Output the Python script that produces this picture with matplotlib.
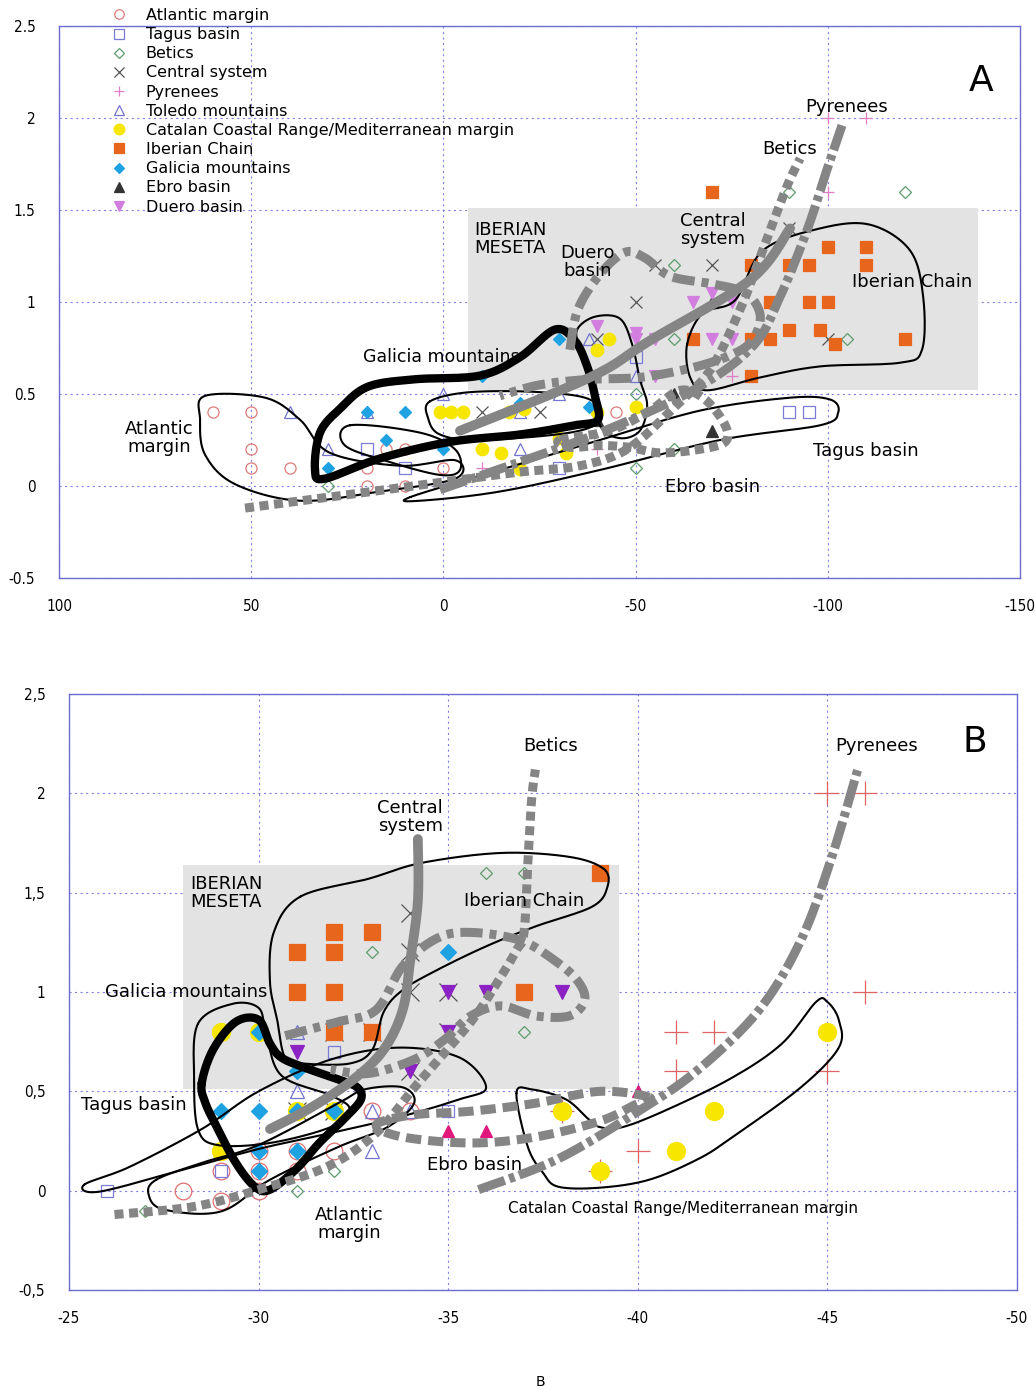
import numpy as np
import matplotlib
matplotlib.use("Agg")
import matplotlib.pyplot as plt
from matplotlib.patches import Rectangle

""" two panels of field points per region, with hand-drawn outlines and trend lines """

plt.rcParams['font.family'] = ['DejaVu Sans']
plt.rcParams['lines.scale_dashes'] = False

# ---- panel A points (x, y) ----
atlantic_a = [(60, 0.4), (50, 0.4), (50, 0.2), (50, 0.1), (40, 0.1), (20, 0.1), (15, 0.2), (10, 0.2),
              (20, 0.0), (10, 0.0), (0, 0.1), (-45, 0.4)]
tagus_a = [(10, 0.1), (20, 0.2), (-30, 0.1), (-50, 0.7), (-90, 0.4), (-95, 0.4)]
betics_a = [(30, 0.0), (-50, 0.1), (-50, 0.5), (-60, 0.2), (-60, 0.8), (-60, 1.2), (-90, 1.6), (-105, 0.8), (-120, 1.6)]
central_a = [(-10, 0.4), (-25, 0.4), (-40, 0.8), (-50, 1.0), (-55, 1.2), (-70, 1.2), (-90, 1.4), (-100, 0.8)]
pyrenees_a = [(-10, 0.1), (-40, 0.2), (-75, 0.6), (-100, 1.6), (-100, 2.0), (-110, 2.0)]
toledo_a = [(40, 0.4), (30, 0.2), (20, 0.4), (0, 0.5), (-20, 0.4), (-20, 0.2), (-30, 0.5), (-38, 0.8), (-50, 0.6)]
catalan_a = [(1, 0.4), (-2, 0.4), (-5, 0.4), (-17, 0.4), (-21, 0.42), (-10, 0.2), (-15, 0.18), (-20, 0.09),
             (-30, 0.26), (-32, 0.18), (-40, 0.4), (-50, 0.43), (-43, 0.8), (-40, 0.74)]
iberian_a = [(-70, 1.6), (-80, 1.2), (-90, 1.2), (-95, 1.2), (-100, 1.3), (-110, 1.3), (-110, 1.2), (-85, 1.0),
             (-95, 1.0), (-100, 1.0), (-90, 0.85), (-98, 0.85), (-65, 0.8), (-80, 0.8), (-85, 0.8), (-102, 0.77),
             (-120, 0.8), (-80, 0.6)]
galicia_a = [(30, 0.1), (20, 0.4), (15, 0.25), (10, 0.4), (0, 0.2), (-10, 0.6), (-20, 0.45), (-30, 0.8), (-38, 0.43)]
ebro_a = [(-40, 0.36), (-60, 0.5), (-70, 1.0), (-70, 0.3)]
duero_a = [(-40, 0.87), (-40, 0.6), (-50, 0.83), (-50, 0.8), (-55, 0.8), (-55, 0.6), (-65, 1.0), (-70, 0.8),
           (-70, 1.05), (-75, 1.0), (-75, 0.8)]

# ---- panel B points (x, y) ----
atlantic_b = [(-28, 0.0), (-29, -0.05), (-30, 0.0), (-29, 0.1), (-30, 0.1), (-31, 0.1), (-30, 0.2), (-31, 0.2),
              (-32, 0.2), (-33, 0.4), (-34, 0.4)]
tagus_b = [(-26, 0.0), (-29, 0.1), (-32, 0.7), (-35, 0.4)]
betics_b = [(-27, -0.1), (-31, 0.0), (-32, 0.1), (-33, 1.2), (-36, 1.6), (-37, 1.6), (-37, 0.8)]
central_b = [(-34, 1.4), (-34, 1.2), (-34, 1.0), (-35, 1.0), (-35, 0.8), (-32, 0.8), (-33, 0.8), (-34, 0.6),
             (-31, 0.4), (-32, 0.4)]
pyrenees_b = [(-45, 2.0), (-46, 2.0), (-46, 1.0), (-41, 0.8), (-42, 0.8), (-41, 0.6), (-45, 0.6), (-40, 0.2),
              (-38, 0.4), (-39, 0.1)]
toledo_b = [(-29, 0.2), (-31, 0.5), (-31, 0.8), (-33, 0.4), (-34, 0.4), (-33, 0.2)]
catalan_b = [(-29, 0.8), (-30, 0.8), (-29, 0.2), (-31, 0.4), (-32, 0.4), (-38, 0.4), (-39, 0.1), (-41, 0.2),
             (-42, 0.4), (-45, 0.8)]
iberian_b = [(-39, 1.6), (-31, 1.2), (-32, 1.3), (-33, 1.3), (-32, 1.2), (-31, 1.0), (-32, 1.0), (-37, 1.0),
             (-32, 0.8), (-33, 0.8)]
galicia_b = [(-29, 0.4), (-30, 0.4), (-31, 0.4), (-32, 0.4), (-30, 0.2), (-31, 0.2), (-30, 0.1), (-31, 0.6),
             (-30, 0.8), (-35, 1.2)]
ebro_b = [(-35, 0.3), (-36, 0.3), (-40, 0.5)]
duero_b = [(-35, 1.0), (-36, 1.0), (-38, 1.0), (-35, 0.8), (-34, 0.6), (-31, 0.7)]

labels = ["Atlantic margin", "Tagus basin", "Betics", "Central system", "Pyrenees", "Toledo mountains",
          "Catalan Coastal Range/Mediterranean margin", "Iberian Chain", "Galicia mountains", "Ebro basin",
          "Duero basin"]

# ---- hand drawn outlines, panel A ----
out_atlantic_a = [(63.3, 0.36), (62, 0.49), (46.4, 0.48), (37.3, 0.36), (29.5, 0.18), (11.2, 0.11), (-3.1, 0.14),
                  (-3.1, 0.04), (16.5, -0.03), (37.3, -0.08), (54.2, 0.01), (62, 0.17)]
out_galicia_a = [(33.4, 0.087), (32.1, 0.29), (26.9, 0.42), (19.6, 0.54), (7.4, 0.58), (-9.5, 0.60), (-19.9, 0.70),
                 (-29.0, 0.85), (-34.2, 0.79), (-37.4, 0.65), (-39.4, 0.49), (-40.2, 0.36), (-34.2, 0.33),
                 (-19.9, 0.28), (-1.8, 0.24), (16.5, 0.15), (30.8, 0.04)]
out_tagus_a = [(8.6, -0.06), (-14.7, 0.087), (-40.7, 0.25), (-66.8, 0.41), (-90.2, 0.48), (-100.6, 0.47),
               (-102.7, 0.40), (-98, 0.33), (-72, 0.25), (-40.7, 0.087), (-14.7, -0.03), (6, -0.08)]
out_iberian_a = [(-63.4, 0.77), (-67.5, 0.94), (-75.9, 1.01), (-83.1, 1.28), (-98, 1.40), (-111, 1.42),
                 (-121.4, 1.28), (-124.8, 1.03), (-124.5, 0.74), (-118.8, 0.67), (-98, 0.65), (-82.4, 0.59),
                 (-68.6, 0.52), (-64.2, 0.59)]
out_duero_a = [(-34.8, 0.85), (-39.4, 0.92), (-45.9, 0.91), (-49.1, 0.77), (-51.1, 0.58), (-53, 0.44),
               (-51.1, 0.30), (-45.9, 0.26), (-40.7, 0.33), (-38.1, 0.58), (-35.5, 0.74)]
out_catalan_a = [(3.5, 0.46), (-6.9, 0.51), (-25.1, 0.51), (-38.1, 0.47), (-40.7, 0.36), (-32.9, 0.29),
                 (-9.5, 0.25), (0.9, 0.28), (4, 0.37)]
out_toledo_a = [(24.3, 0.33), (6.1, 0.29), (-3, 0.20), (-4.3, 0.087), (0.8, 0.06), (13.9, 0.13), (25.6, 0.22)]

# ---- trend lines, panel A ----
line_central_a = [(-4.3, 0.30), (-38.1, 0.59), (-53.7, 0.79), (-79.8, 1.12), (-90.2, 1.40)]
line_pyrenees_a = [(0.9, -0.02), (-19.1, 0.125), (-40.7, 0.29), (-64.9, 0.52), (-80.5, 0.76), (-87.6, 1.03),
                   (-94.6, 1.39), (-99.8, 1.72), (-103.7, 1.96)]
line_betics_a = [(51.6, -0.12), (29.5, -0.06), (0.8, 0.02), (-19.9, 0.076), (-35.5, 0.11), (-47.8, 0.20),
                 (-59.7, 0.42), (-69.4, 0.63), (-77.2, 0.96), (-81.1, 1.17), (-85, 1.39), (-89.6, 1.64),
                 (-92.8, 1.78)]
line_ebro_a = [(-30.3, 0.25), (-43.3, 0.30), (-53.7, 0.41), (-61.6, 0.52), (-68.1, 0.47), (-73.3, 0.33),
               (-73.3, 0.24), (-66.8, 0.20), (-56.3, 0.18), (-48.5, 0.21), (-40.7, 0.22), (-32.9, 0.21)]
line_duero_a = [(-32.9, 0.74), (-35, 0.96), (-40.7, 1.15), (-47.2, 1.27), (-52.4, 1.24), (-59, 1.14),
                (-69.4, 1.10), (-78.5, 1.05), (-82.4, 0.93), (-80.3, 0.79), (-74.6, 0.71), (-64.2, 0.64),
                (-51.1, 0.59), (-38.1, 0.58), (-25.1, 0.55), (-14.7, 0.49)]

# ---- hand drawn outlines, panel B ----
out_iberian_b = [(-31.1, 1.48), (-32.9, 1.57), (-34.3, 1.65), (-36.4, 1.70), (-38.2, 1.68), (-39.1, 1.62),
                 (-39.2, 1.53), (-38.8, 1.43), (-37.3, 1.33), (-36.0, 1.23), (-34.7, 1.11), (-33.8, 1.01),
                 (-33.3, 0.90), (-33.0, 0.71), (-32.4, 0.64), (-31.2, 0.64), (-30.7, 0.67), (-30.5, 0.85),
                 (-30.3, 1.05), (-30.4, 1.30)]
out_galicia_b = [(-28.5, 0.54), (-28.8, 0.71), (-29.4, 0.85), (-30.0, 0.86), (-30.3, 0.74), (-30.6, 0.67),
                 (-31.2, 0.62), (-32.1, 0.56), (-32.6, 0.52), (-32.7, 0.46), (-32.3, 0.37), (-31.6, 0.24),
                 (-31.0, 0.11), (-30.3, 0.005), (-29.9, 0.02), (-29.4, 0.14), (-28.9, 0.32), (-28.6, 0.44)]
out_tagus_b = [(-25.4, 0.03), (-26.6, 0.12), (-28.5, 0.31), (-30.0, 0.50), (-31.9, 0.66), (-33.7, 0.72),
               (-35.3, 0.67), (-36.0, 0.52), (-35.3, 0.46), (-33.7, 0.37), (-31.9, 0.29), (-30.0, 0.21),
               (-27.9, 0.10), (-25.8, -0.005)]
out_atlantic_b = [(-27.3, 0.055), (-28.5, 0.14), (-30.0, 0.23), (-32.1, 0.44), (-32.8, 0.51), (-33.8, 0.52),
                  (-34.1, 0.44), (-33.4, 0.32), (-32.1, 0.22), (-30.3, 0.055), (-29.0, -0.105), (-27.5, -0.095),
                  (-27.1, -0.02)]
out_loop_b = [(-28.4, 0.84), (-29.3, 0.94), (-30.0, 0.92), (-30.2, 0.79), (-30.6, 0.58), (-31.9, 0.48),
              (-32.4, 0.41), (-31.9, 0.32), (-30.3, 0.24), (-28.9, 0.23), (-28.4, 0.31), (-28.3, 0.56)]
out_catalan_b = [(-36.8, 0.49), (-37.2, 0.51), (-38.1, 0.46), (-38.7, 0.36), (-39.0, 0.32), (-39.6, 0.32),
                 (-40.8, 0.41), (-42.5, 0.57), (-43.8, 0.74), (-44.7, 0.95), (-45.0, 0.95), (-45.3, 0.86),
                 (-45.3, 0.72), (-44.3, 0.52), (-42.5, 0.27), (-41.6, 0.16), (-40.3, 0.055), (-39.0, 0.015),
                 (-37.9, 0.02), (-37.5, 0.09), (-37.1, 0.22)]

# ---- trend lines, panel B ----
line_central_b = [(-34.2, 1.77), (-34.2, 1.46), (-34.0, 1.16), (-33.8, 0.91), (-33.3, 0.71), (-32.5, 0.56),
                  (-31.4, 0.42), (-30.3, 0.31)]
line_betics_b = [(-26.2, -0.12), (-28.3, -0.08), (-30.0, 0.005), (-31.8, 0.12), (-33.1, 0.29), (-34.2, 0.54),
                 (-35.6, 0.85), (-36.3, 1.05), (-36.8, 1.21), (-37.0, 1.30), (-37.1, 1.65), (-37.2, 1.97),
                 (-37.3, 2.12)]
line_pyrenees_b = [(-35.8, 0.005), (-37.9, 0.16), (-40.1, 0.41), (-41.6, 0.61), (-43.2, 0.91), (-44.3, 1.26),
                   (-45.1, 1.67), (-45.8, 2.12)]
line_ebro_b = [(-40.3, 0.47), (-39.0, 0.50), (-37.3, 0.44), (-35.6, 0.40), (-34.0, 0.38), (-33.1, 0.33),
               (-33.8, 0.27), (-35.6, 0.24), (-37.3, 0.27), (-39.0, 0.35), (-39.9, 0.43)]
line_duero_b = [(-30.7, 0.78), (-32.1, 0.85), (-33.1, 0.91), (-33.8, 1.13), (-34.7, 1.27), (-35.6, 1.30),
                (-36.9, 1.26), (-37.8, 1.16), (-38.4, 1.06), (-38.6, 0.96), (-38.2, 0.88), (-37.3, 0.88),
                (-36.4, 0.93), (-35.6, 0.88), (-34.9, 0.76), (-34.1, 0.66), (-32.9, 0.59), (-31.9, 0.61)]

GRAY = '#858585'
DOT = (0, (6.5, 4.0))
DASH = (0, (11, 5))
DASHDOT = (0, (20, 3.5, 4, 3.5))
DUERO = (0, (16, 5, 5, 5))


def smooth(pts, closed=True, n=14) :
	p = np.asarray(pts, float)
	if closed :
		p = np.vstack([p[-1], p, p[0], p[1]])
	else :
		p = np.vstack([p[0], p, p[-1]])
	t = np.linspace(0, 1, n, endpoint=False)[:, None]
	out = []
	for i in range(1, len(p) - 2) :
		p0, p1, p2, p3 = p[i - 1], p[i], p[i + 1], p[i + 2]
		seg = 0.5 * (2 * p1 + (-p0 + p2) * t + (2 * p0 - 5 * p1 + 4 * p2 - p3) * t ** 2
			+ (-p0 + 3 * p1 - 3 * p2 + p3) * t ** 3)
		out.append(seg)
	out.append(p[-2][None])
	return np.vstack(out)


def draw_curve(ax, pts, closed, **kw) :
	c = smooth(pts, closed)
	ax.plot(c[:, 0], c[:, 1], solid_capstyle='round', **kw)


def style_axes(ax, xticks, yticks, ylabels) :
	for s in ax.spines.values() :
		s.set_color('#6c6cd4')
		s.set_linewidth(1.0)
	ax.set_xticks(xticks)
	ax.set_yticks(yticks)
	ax.set_yticklabels(ylabels)
	ax.set_xticklabels([f"{v:g}" for v in xticks])
	ax.tick_params(axis='x', length=0, labelsize=11, pad=15)
	ax.tick_params(axis='y', length=0, labelsize=11, pad=17)
	for lab in ax.get_xticklabels() + ax.get_yticklabels() :
		lab.set_fontstretch('condensed')
	ax.grid(True, color='#7f7fe0', linestyle=(0, (1.5, 2.5)), linewidth=0.8)
	ax.set_axisbelow(True)


def scatter(ax, pts, marker, color, ms, filled, mew=0.9, label=None) :
	a = np.asarray(pts, float)
	ax.plot(a[:, 0], a[:, 1], ls='none', marker=marker, ms=ms, mew=mew,
		mfc=color if filled else 'none', mec=color, label=label, zorder=3)


fig = plt.figure(figsize=(10.35, 13.9), dpi=100)
axA = fig.add_axes([59 / 1035, 1 - 578 / 1390, (1020 - 59) / 1035, (578 - 26) / 1390])
axB = fig.add_axes([69 / 1035, 1 - 1290 / 1390, (1017 - 69) / 1035, (1290 - 694) / 1390])

# ---------------- panel A ----------------
axA.set_xlim(100, -150)
axA.set_ylim(-0.5, 2.5)
style_axes(axA, [100, 50, 0, -50, -100, -150], [-0.5, 0, 0.5, 1, 1.5, 2, 2.5],
	['-0.5', '0', '0.5', '1', '1.5', '2', '2.5'])
axA.add_patch(Rectangle((-6.5, 0.52), -132.5, 0.99, facecolor='#e3e3e3', edgecolor='none', zorder=1))

pts_a = [atlantic_a, tagus_a, betics_a, central_a, pyrenees_a, toledo_a, catalan_a, iberian_a, galicia_a, ebro_a, duero_a]
sty_a = [('o', '#e07b7b', 8, False), ('s', '#7b7bd8', 8, False), ('D', '#5e9c6c', 6, False),
         ('x', '#555555', 8, False), ('+', '#e27fc4', 9, False), ('^', '#7373d2', 9, False),
         ('o', '#f6e600', 9, True), ('s', '#e8661c', 8.5, True), ('D', '#1fa2e2', 6.5, True),
         ('^', '#333333', 8, True), ('v', '#d27ede', 9, True)]
for pts, (m, c, ms, f), lab in zip(pts_a, sty_a, labels) :
	scatter(axA, pts, m, c, ms, f, label=lab)

for o in [out_atlantic_a, out_tagus_a, out_iberian_a, out_duero_a, out_catalan_a, out_toledo_a] :
	draw_curve(axA, o, True, color='black', lw=1.5, zorder=4)
draw_curve(axA, out_galicia_a, True, color='black', lw=6, zorder=4)

draw_curve(axA, line_central_a, False, color=GRAY, lw=7, zorder=5)
draw_curve(axA, line_pyrenees_a, False, color=GRAY, lw=6.5, ls=DASHDOT, zorder=5)
draw_curve(axA, line_betics_a, False, color=GRAY, lw=6.5, ls=DOT, zorder=5)
draw_curve(axA, line_ebro_a, True, color=GRAY, lw=6.5, ls=DOT, zorder=5)
draw_curve(axA, line_duero_a, False, color=GRAY, lw=6.5, ls=DUERO, zorder=5)

txt = dict(fontsize=13, zorder=6)
axA.text(-140, 2.2, 'A', fontsize=26, ha='center', va='center')
axA.text(-105, 2.06, 'Pyrenees', ha='center', va='center', **txt)
axA.text(-90, 1.83, 'Betics', ha='center', va='center', **txt)
axA.text(-70, 1.39, 'Central\nsystem', ha='center', va='center', linespacing=1.0, **txt)
axA.text(-8, 1.34, 'IBERIAN\nMESETA', ha='left', va='center', linespacing=1.0, **txt)
axA.text(-37.5, 1.22, 'Duero\nbasin', ha='center', va='center', linespacing=1.0, **txt)
axA.text(-122, 1.11, 'Iberian Chain', ha='center', va='center', **txt)
axA.text(0.5, 0.70, 'Galicia mountains', ha='center', va='center', fontsize=12.5, zorder=6)
axA.text(74, 0.26, 'Atlantic\nmargin', ha='center', va='center', linespacing=1.0, **txt)
axA.text(-110, 0.19, 'Tagus basin', ha='center', va='center', **txt)
axA.text(-70, -0.005, 'Ebro basin', ha='center', va='center', **txt)

fig.legend(*axA.get_legend_handles_labels(), loc='upper left', bbox_to_anchor=(109 / 1035, 1 - 8 / 1390),
	frameon=False, fontsize=11.5, handlelength=1.2, handletextpad=1.1, labelspacing=0.26,
	borderpad=0, borderaxespad=0, markerscale=0.85)

# ---------------- panel B ----------------
axB.set_xlim(-25, -50)
axB.set_ylim(-0.5, 2.5)
style_axes(axB, [-25, -30, -35, -40, -45, -50], [-0.5, 0, 0.5, 1, 1.5, 2, 2.5],
	['-0,5', '0', '0,5', '1', '1,5', '2', '2,5'])
axB.add_patch(Rectangle((-28.0, 0.51), -11.5, 1.13, facecolor='#e3e3e3', edgecolor='none', zorder=1))

pts_b = [atlantic_b, tagus_b, betics_b, central_b, pyrenees_b, toledo_b, catalan_b, iberian_b, galicia_b, ebro_b, duero_b]
sty_b = [('o', '#e07070', 12, False), ('s', '#7b7bd8', 9, False), ('D', '#5e9c6c', 6.5, False),
         ('x', '#555555', 13, False), ('+', '#e06464', 17, False), ('^', '#7373d2', 10, False),
         ('o', '#f6e600', 13, True), ('s', '#e8661c', 11, True), ('D', '#1fa2e2', 8, True),
         ('^', '#e0187c', 9, True), ('v', '#8c22c4', 10, True)]
for pts, (m, c, ms, f) in zip(pts_b, sty_b) :
	scatter(axB, pts, m, c, ms, f)

for o in [out_iberian_b, out_tagus_b, out_atlantic_b, out_loop_b, out_catalan_b] :
	draw_curve(axB, o, True, color='black', lw=1.5, zorder=4)
draw_curve(axB, out_galicia_b, True, color='black', lw=6, zorder=4)

draw_curve(axB, line_central_b, False, color=GRAY, lw=7, zorder=5)
draw_curve(axB, line_betics_b, False, color=GRAY, lw=6.5, ls=DOT, zorder=5)
draw_curve(axB, line_pyrenees_b, False, color=GRAY, lw=6.5, ls=DASHDOT, zorder=5)
draw_curve(axB, line_ebro_b, True, color=GRAY, lw=6.5, ls=DASH, zorder=5)
draw_curve(axB, line_duero_b, False, color=GRAY, lw=6.5, ls=DUERO, zorder=5)

axB.text(-48.9, 2.26, 'B', fontsize=26, ha='center', va='center')
axB.text(-37.7, 2.24, 'Betics', ha='center', va='center', **txt)
axB.text(-46.3, 2.24, 'Pyrenees', ha='center', va='center', **txt)
axB.text(-34.0, 1.88, 'Central\nsystem', ha='center', va='center', linespacing=1.0, **txt)
axB.text(-28.2, 1.50, 'IBERIAN\nMESETA', ha='left', va='center', linespacing=1.0, **txt)
axB.text(-37.0, 1.46, 'Iberian Chain', ha='center', va='center', **txt)
axB.text(-28.1, 1.0, 'Galicia mountains', ha='center', va='center', **txt)
axB.text(-26.7, 0.43, 'Tagus basin', ha='center', va='center', **txt)
axB.text(-35.7, 0.13, 'Ebro basin', ha='center', va='center', **txt)
axB.text(-32.4, -0.17, 'Atlantic\nmargin', ha='center', va='center', linespacing=1.0, **txt)
axB.text(-41.2, -0.09, 'Catalan Coastal Range/Mediterranean margin', ha='center', va='center',
	fontsize=11, zorder=6)

fig.text(540 / 1035, 1 - 1382 / 1390, 'B', ha='center', va='center', fontsize=10)

fig.savefig('out.png', dpi=100)
